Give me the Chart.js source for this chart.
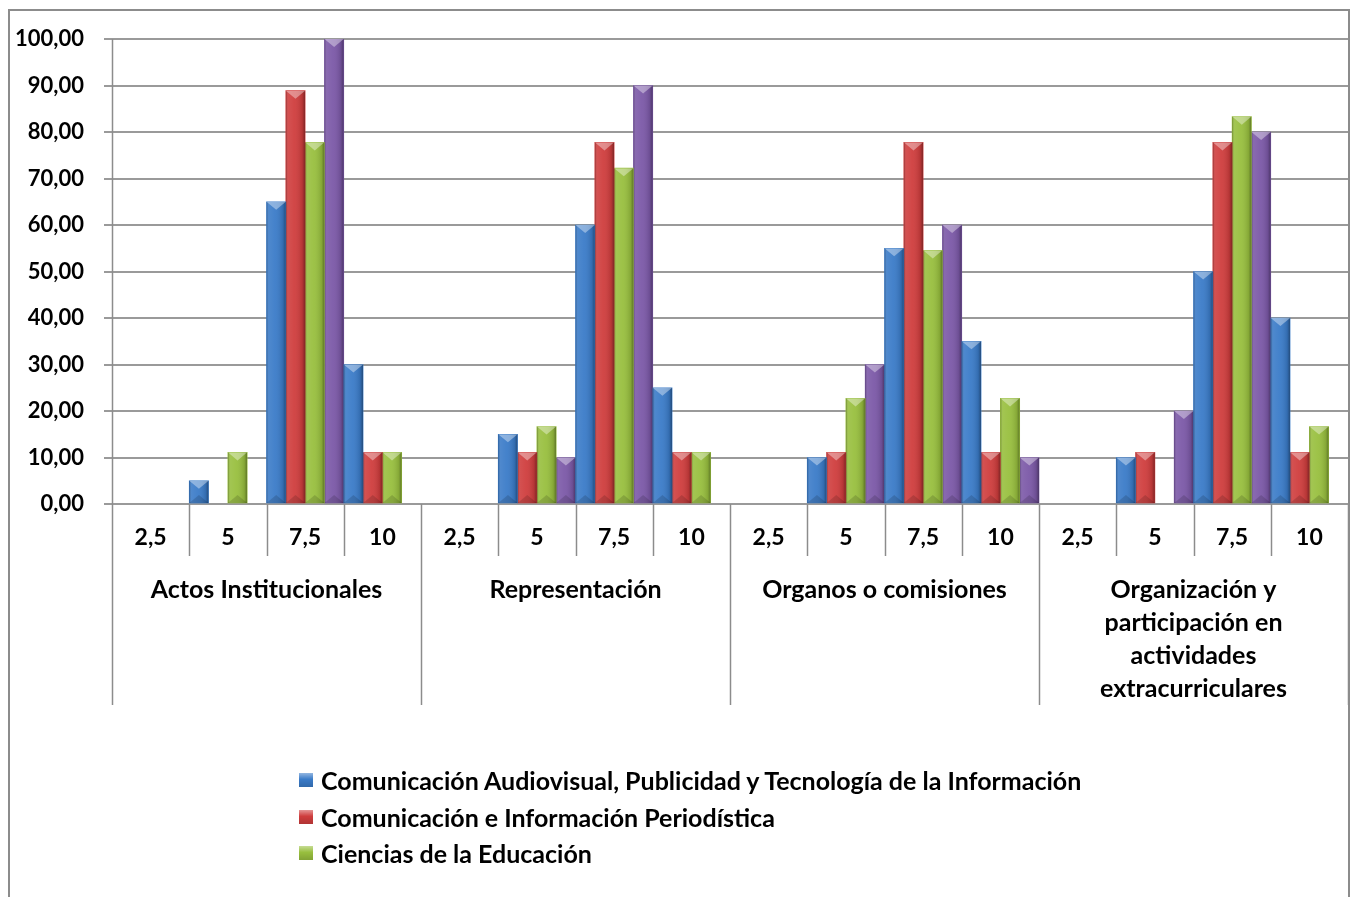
<!DOCTYPE html>
<html>
<head>
<meta charset="utf-8">
<script src="https://cdn.jsdelivr.net/npm/chart.js@4.4.1/dist/chart.umd.min.js"></script>
<style>
  body { margin: 0; background: #fff; }
  #wrap { position: relative; width: 1351px; height: 897px; overflow: hidden; }
  #frame { position: absolute; left: 8px; top: 9px; width: 1342px; height: 900px;
           border: 2px solid #8c8c8c; border-bottom: none; box-sizing: border-box; pointer-events: none; }
  #legend { position: absolute; left: 299px; top: 762px; font: bold 25px Lato, sans-serif; color: #000; }
  .row { height: 36.5px; display: flex; align-items: center; white-space: nowrap; }
  .box { width: 14px; height: 14px; margin-right: 8px; }
</style>
</head>
<body>
<div id="wrap">
  <canvas id="chart"></canvas>
  <div id="frame"></div>
  <div id="legend"></div>
</div>
<script>
// sub-categories repeated in every group
const subLabels = ['2,5', '5', '7,5', '10'];
const groupLabels = [
  ['Actos Institucionales'],
  ['Representación'],
  ['Organos o comisiones'],
  ['Organización y', 'participación en', 'actividades', 'extracurriculares']
];
const categories = groupLabels.flatMap(() => subLabels);

const seriesNames = [
  'Comunicación Audiovisual, Publicidad y Tecnología de la Información',
  'Comunicación e Información Periodística',
  'Ciencias de la Educación',
  'Serie 4'
];
// values per group: 2,5 | 5 | 7,5 | 10
const audiovisual = [0, 5, 65, 30,     0, 15, 60, 25,        0, 10, 55, 35,        0, 10, 50, 40];
const periodistica = [0, 0, 88.89, 11.11, 0, 11.11, 77.78, 11.11, 0, 11.11, 77.78, 11.11, 0, 11.11, 77.78, 11.11];
const educacion = [0, 11.11, 77.78, 11.11, 0, 16.67, 72.22, 11.11, 0, 22.73, 54.55, 22.73, 0, 0, 83.33, 16.67];
const serie4 = [0, 0, 100, 0,      0, 10, 90, 0,         0, 30, 60, 10,        0, 20, 80, 0];

const colors = ['#3a7bc8', '#cf3d3d', '#98bf3e', '#7b58a7'];
const yTicks = { min: 0, max: 100, step: 10 };

// legend (only the first three entries are visible in the original)
const legend = document.getElementById('legend');
seriesNames.slice(0, 3).forEach((name, i) => {
  const row = document.createElement('div');
  row.className = 'row';
  const box = document.createElement('span');
  box.className = 'box';
  box.style.background = 'linear-gradient(180deg, rgba(255,255,255,0.45) 0%, rgba(255,255,255,0) 45%, rgba(0,0,0,0.15) 100%), ' + colors[i];
  row.appendChild(box);
  row.appendChild(document.createTextNode(name));
  legend.appendChild(row);
});

// Excel-like bevel on every bar
const bevelPlugin = {
  id: 'bevel',
  afterDatasetsDraw(chart) {
    const ctx = chart.ctx;
    chart.data.datasets.forEach((ds, di) => {
      const meta = chart.getDatasetMeta(di);
      meta.data.forEach(bar => {
        const { x, y, base, width } = bar.getProps(['x', 'y', 'base', 'width'], true);
        const h = base - y;
        if (h < 1) return;
        const l = x - width / 2, r = x + width / 2;
        ctx.save();
        ctx.beginPath(); ctx.rect(l, y, width, h); ctx.clip();
        const g = ctx.createLinearGradient(l, 0, r, 0);
        g.addColorStop(0, 'rgba(0,0,0,0.30)');
        g.addColorStop(0.12, 'rgba(255,255,255,0.10)');
        g.addColorStop(0.45, 'rgba(255,255,255,0.05)');
        g.addColorStop(0.85, 'rgba(0,0,0,0.12)');
        g.addColorStop(1, 'rgba(0,0,0,0.38)');
        ctx.fillStyle = g;
        ctx.fillRect(l, y, width, h);
        const th = Math.min(width * 0.42, h / 2);
        ctx.beginPath(); ctx.moveTo(l, y); ctx.lineTo(r, y); ctx.lineTo(x, y + th); ctx.closePath();
        ctx.fillStyle = 'rgba(255,255,255,0.38)'; ctx.fill();
        ctx.beginPath(); ctx.moveTo(l, base); ctx.lineTo(r, base); ctx.lineTo(x, base - th); ctx.closePath();
        ctx.fillStyle = 'rgba(0,0,0,0.14)'; ctx.fill();
        ctx.restore();
      });
    });
  }
};

// category separators under the plot (short ones per value, long ones per group)
const separatorPlugin = {
  id: 'separators',
  afterDraw(chart) {
    const { ctx, chartArea, scales } = chart;
    const x = scales.x;
    ctx.save();
    ctx.strokeStyle = '#8c8c8c';
    ctx.lineWidth = 1.5;
    for (let i = 0; i <= categories.length; i++) {
      const px = Math.round(x.getPixelForValue(i - 0.5)) + 0.5;
      const end = chartArea.bottom + ((i % subLabels.length === 0) ? 201 : 52);
      ctx.beginPath();
      ctx.moveTo(px, i === 0 ? chartArea.top : chartArea.bottom);
      ctx.lineTo(px, end);
      ctx.stroke();
    }
    ctx.restore();
  }
};

const font = { family: 'Lato, sans-serif', weight: 'bold' };

new Chart(document.getElementById('chart'), {
  type: 'bar',
  data: {
    labels: categories,
    datasets: [audiovisual, periodistica, educacion, serie4].map((d, i) => ({
      label: seriesNames[i],
      data: d,
      backgroundColor: c => (c.raw ? colors[i] : 'rgba(0,0,0,0)'),
      borderWidth: 0,
      barPercentage: 1,
      categoryPercentage: 1
    }))
  },
  options: {
    responsive: true,
    maintainAspectRatio: false,
    animation: false,
    layout: { padding: { left: 13, top: 39, right: 3, bottom: 190 } },
    plugins: { legend: { display: false }, tooltip: { enabled: false } },
    scales: {
      x: {
        grid: { display: false, drawTicks: false },
        border: { display: false },
        ticks: { color: '#000', font: { ...font, size: 23, lineHeight: '24px' }, padding: 22, autoSkip: false, maxRotation: 0 }
      },
      x2: {
        type: 'category',
        labels: groupLabels,
        position: 'bottom',
        offset: true,
        grid: { display: false, drawTicks: false },
        border: { display: false },
        ticks: { color: '#000', font: { ...font, size: 25, lineHeight: '33px' }, padding: 1.5, autoSkip: false, maxRotation: 0 }
      },
      y: {
        min: yTicks.min,
        max: yTicks.max,
        afterFit: s => { s.width = 99; },
        grid: { color: '#9a9a9a', lineWidth: 2, tickLength: 8 },
        border: { display: false },
        ticks: {
          stepSize: yTicks.step,
          color: '#000',
          font: { ...font, size: 22 },
          padding: 20,
          callback: v => v.toFixed(2).replace('.', ',')
        }
      }
    }
  },
  plugins: [bevelPlugin, separatorPlugin]
});
</script>
</body>
</html>
